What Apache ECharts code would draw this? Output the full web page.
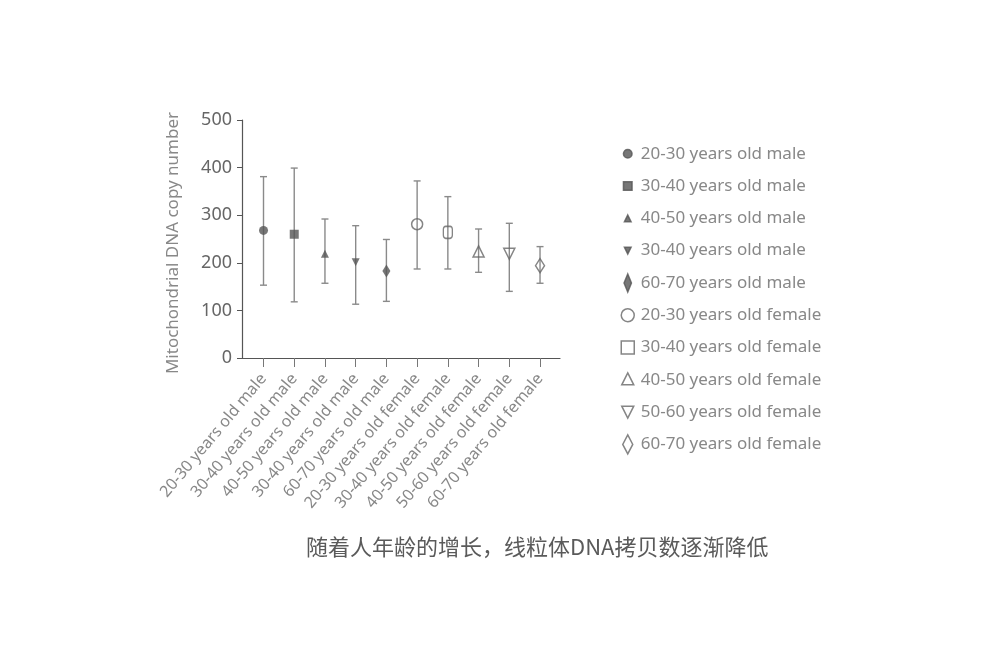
<!DOCTYPE html>
<html>
<head>
<meta charset="utf-8">
<script src="https://cdn.jsdelivr.net/npm/echarts@6/dist/echarts.min.js"></script>
<style>html,body{margin:0;padding:0;background:#fff;}#c{width:1000px;height:668px;}</style>
</head>
<body>
<div id="c"></div>
<script>
const categories = ['20-30 years old male','30-40 years old male','40-50 years old male','30-40 years old male','60-70 years old male','20-30 years old female','30-40 years old female','40-50 years old female','50-60 years old female','60-70 years old female'];
const legendNames = ['20-30 years old male','30-40 years old male','40-50 years old male','30-40 years old male ','60-70 years old male','20-30 years old female','30-40 years old female','40-50 years old female','50-60 years old female','60-70 years old female'];
const means = [268, 260, 219, 201, 183, 281, 264, 224, 219, 194];
const upper = [381, 399, 292, 278, 249, 372, 339, 271, 283, 234];
const lower = [153, 118, 157, 113, 119, 187, 187, 180, 140, 157];
const yTicks = [0, 100, 200, 300, 400, 500];
const titleText = '随着人年龄的增长，线粒体DNA拷贝数逐渐降低';
const yName = 'Mitochondrial DNA copy number';

const dark = '#555';
const markerDefs = [
  {symbol:'circle', size:9, filled:true, icon:'path://M0,0M20,20M10,5.7A4.3,4.3,0,1,1,9.99,5.7Z'},
  {symbol:'rect', size:9, filled:true, icon:'path://M0,0M20,20M5.7,5.7L14.3,5.7L14.3,14.3L5.7,14.3Z'},
  {symbol:'triangle', size:8, filled:true, icon:'path://M0,0M20,20M10,6.7L13.3,13.3L6.7,13.3Z'},
  {symbol:'triangle', size:8, rotate:180, filled:true, icon:'path://M0,0M20,20M6.7,6.7L13.3,6.7L10,13.3Z'},
  {symbol:'diamond', size:[8,13], filled:true, icon:'path://M0,0M20,20M10,1L13.7,10L10,19L6.3,10Z'},
  {symbol:'circle', size:11, filled:false, icon:'path://M0,0M20,20M10,3.5A6.5,6.5,0,1,1,9.99,3.5Z'},
  {symbol:'roundRect', size:[9,12], filled:false, icon:'path://M0,0M20,20M3.5,3.5L16.5,3.5L16.5,16.5L3.5,16.5Z'},
  {symbol:'triangle', size:11, filled:false, icon:'path://M0,0M20,20M10,3L16,15L4,15Z'},
  {symbol:'triangle', size:11, rotate:180, filled:false, icon:'path://M0,0M20,20M4,4L16,4L10,16Z'},
  {symbol:'diamond', size:[9,14], filled:false, icon:'path://M0,0M20,20M10,0.5L15,10L10,19.5L5,10Z'}
];

const series = [];
series.push({
  type:'custom',
  name:'err',
  z:1,
  silent:true,
  data: categories.map((c,i)=>[i, lower[i], upper[i]]),
  renderItem: function(params, api){
    const x = api.value(0);
    const lo = api.coord([x, api.value(1)]);
    const hi = api.coord([x, api.value(2)]);
    const w = 3.5;
    const st = {stroke:'#8a8a8a', lineWidth:1.4};
    return {type:'group', children:[
      {type:'line', shape:{x1:lo[0], y1:lo[1], x2:hi[0], y2:hi[1]}, style:st},
      {type:'line', shape:{x1:lo[0]-w, y1:lo[1], x2:lo[0]+w, y2:lo[1]}, style:st},
      {type:'line', shape:{x1:hi[0]-w, y1:hi[1], x2:hi[0]+w, y2:hi[1]}, style:st}
    ]};
  }
});
markerDefs.forEach((m,i)=>{
  series.push({
    type:'scatter',
    name: legendNames[i],
    z:3,
    symbol: m.symbol,
    symbolSize: m.size,
    symbolRotate: m.rotate || 0,
    itemStyle: m.filled ? {color:dark, borderWidth:0} : {color:'rgba(255,255,255,0)', borderColor:'#666', borderWidth:1.5},
    data: [[i, means[i]]]
  });
});

const chart = echarts.init(document.getElementById('c'), null, {renderer:'canvas'});
chart.setOption({
  animation:false,
  backgroundColor:'#fff',
  textStyle:{fontFamily:'"Noto Sans", sans-serif'},
  title:{
    text:titleText, left:301, top:531,
    textStyle:{fontFamily:'"Noto Sans CJK SC"', fontSize:22, fontWeight:'normal', color:'#5a5a5a'}
  },
  grid:{left:242, right:440, top:120, bottom:310, containLabel:false},
  xAxis:{
    type:'value', min:-0.7, max:9.65,
    splitLine:{show:false},
    axisLine:{show:true, onZero:false, lineStyle:{color:'#555', width:1.2}},
    axisTick:{show:true, customValues:categories.map((c,i)=>i), length:9, lineStyle:{color:'#777'}},
    axisLabel:{show:true, customValues:categories.map((c,i)=>i), rotate:50, margin:18, fontSize:16, color:'#888',
      formatter: v => categories[Math.round(v)] || ''}
  },
  yAxis:{
    type:'value', min:0, max:500, interval:100,
    name:yName, nameLocation:'middle', nameGap:60,
    nameTextStyle:{fontSize:17, color:'#888', padding:[0,8,0,0]},
    splitLine:{show:false},
    axisLine:{show:true, onZero:false, lineStyle:{color:'#555', width:1.2}},
    axisTick:{show:true, length:5, lineStyle:{color:'#555'}},
    axisLabel:{fontSize:18, color:'#666', margin:10, formatter: v => yTicks.includes(v) ? String(v) : ''}
  },
  legend:{
    orient:'vertical', left:612, top:138,
    itemWidth:20, itemHeight:20, itemGap:10.8,
    textStyle:{fontSize:17, color:'#888', padding:[0,0,0,-2]},
    data: legendNames.map((n,i)=>({name:n, icon:markerDefs[i].icon,
      itemStyle: markerDefs[i].filled ? {color:dark, borderColor:dark, borderWidth:1.5} : {color:'rgba(255,255,255,0)', borderColor:'#666', borderWidth:1.5}}))
  },
  series: series
});
</script>
</body>
</html>
